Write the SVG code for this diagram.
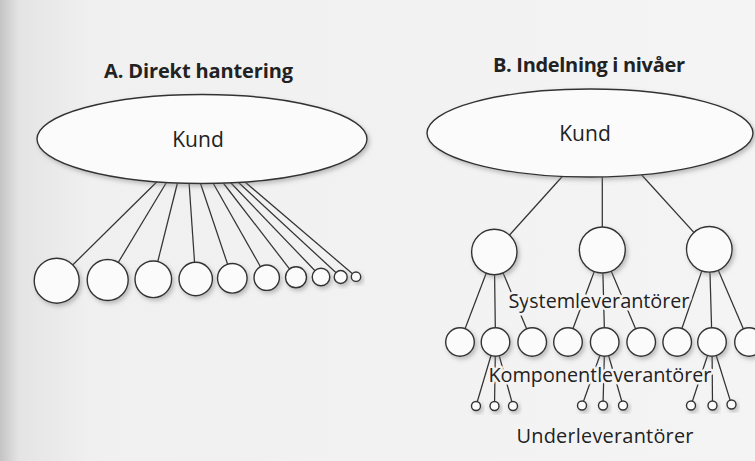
<svg xmlns="http://www.w3.org/2000/svg" width="755" height="461" viewBox="0 0 755 461">
<defs>
<linearGradient id="bg" x1="0" y1="0" x2="1" y2="0">
<stop offset="0" stop-color="#c4c4c4"/>
<stop offset="0.025" stop-color="#e4e4e4"/>
<stop offset="0.12" stop-color="#f0f0f0"/>
<stop offset="1" stop-color="#f4f4f4"/>
</linearGradient>
<filter id="sh" x="-30%" y="-30%" width="170%" height="170%">
<feDropShadow dx="2" dy="2.5" stdDeviation="2" flood-color="#777" flood-opacity="0.45"/>
</filter>
</defs>
<style>
.n{fill:#fbfbfb;stroke:#333;stroke-width:1.4;filter:url(#sh)}
.c line{stroke:#333;stroke-width:1.25}
.t{font-family:"Open Sans","Noto Sans",sans-serif;fill:#222;text-anchor:middle}
.h{font-weight:bold;font-size:20px}
.k{font-size:21px}
.l{font-size:20px;stroke:#f3f3f3;stroke-width:5;paint-order:stroke;stroke-linejoin:round}
</style>
<rect width="755" height="461" fill="url(#bg)"/>

<text class="t h" x="198.5" y="77.5" textLength="189">A. Direkt hantering</text>
<text class="t h" x="589" y="71.5" textLength="192">B. Indelning i nivåer</text>

<g id="connectors" class="c">
<!-- A -->
<line x1="156.7" y1="182" x2="56.7" y2="280.7"/>
<line x1="166.7" y1="182" x2="107.7" y2="280"/>
<line x1="177.7" y1="182" x2="153.3" y2="279.3"/>
<line x1="189" y1="182" x2="195.7" y2="279"/>
<line x1="200" y1="182" x2="232.3" y2="278.3"/>
<line x1="212.5" y1="182" x2="266.7" y2="277.7"/>
<line x1="222.5" y1="182" x2="296" y2="277.3"/>
<line x1="230" y1="182" x2="321" y2="277"/>
<line x1="238" y1="182" x2="340.7" y2="277"/>
<line x1="245" y1="182" x2="356" y2="276.7"/>
<!-- B level 0-1 -->
<line x1="562.7" y1="176" x2="494.3" y2="252"/>
<line x1="602.3" y1="176" x2="602.3" y2="250"/>
<line x1="641.7" y1="175" x2="709.3" y2="249.3"/>
<!-- level 1-2 -->
<line x1="494.3" y1="252" x2="460" y2="342"/>
<line x1="494.3" y1="252" x2="495.5" y2="342"/>
<line x1="494.3" y1="252" x2="532.2" y2="342"/>
<line x1="602.3" y1="250" x2="568" y2="342"/>
<line x1="602.3" y1="250" x2="604.7" y2="342"/>
<line x1="602.3" y1="250" x2="641.2" y2="342"/>
<line x1="709.3" y1="249.3" x2="677.2" y2="342"/>
<line x1="709.3" y1="249.3" x2="712" y2="342"/>
<line x1="709.3" y1="249.3" x2="749" y2="342"/>
<!-- level 2-3 -->
<line x1="495.5" y1="342" x2="494.5" y2="406"/>
<line x1="495.5" y1="342" x2="513" y2="406"/>
<line x1="604.7" y1="342" x2="582" y2="405.5"/>
<line x1="604.7" y1="342" x2="603" y2="405.5"/>
<line x1="604.7" y1="342" x2="623" y2="405.5"/>
<line x1="712" y1="342" x2="691" y2="405.5"/>
<line x1="712" y1="342" x2="712.5" y2="405.5"/>
<line x1="712" y1="342" x2="731.5" y2="404.5"/>
</g>

<g id="kundA"><ellipse class="n" cx="202" cy="139" rx="165" ry="44.5"/><text class="t k" x="198" y="147">Kund</text></g>
<g id="kundB"><ellipse class="n" cx="590" cy="133" rx="163" ry="44"/><text class="t k" x="585" y="140.5">Kund</text></g>

<g id="a1"><circle class="n" cx="56.7" cy="280.7" r="22.5"/></g>
<g id="a2"><circle class="n" cx="107.7" cy="280" r="20.5"/></g>
<g id="a3"><circle class="n" cx="153.3" cy="279.3" r="18.3"/></g>
<g id="a4"><circle class="n" cx="195.7" cy="279" r="16.7"/></g>
<g id="a5"><circle class="n" cx="232.3" cy="278.3" r="14.8"/></g>
<g id="a6"><circle class="n" cx="266.7" cy="277.7" r="12.7"/></g>
<g id="a7"><circle class="n" cx="296" cy="277.3" r="10.5"/></g>
<g id="a8"><circle class="n" cx="321" cy="277" r="8.8"/></g>
<g id="a9"><circle class="n" cx="340.7" cy="277" r="6.5"/></g>
<g id="a10"><circle class="n" cx="356" cy="276.7" r="4.7"/></g>

<g id="s1"><circle class="n" cx="494.3" cy="252" r="22.7"/></g>
<g id="s2"><circle class="n" cx="602.3" cy="250" r="23"/></g>
<g id="s3"><circle class="n" cx="709.3" cy="249.3" r="22.8"/></g>

<g id="k1"><circle class="n" cx="460" cy="342" r="14.3"/></g>
<g id="k2"><circle class="n" cx="495.5" cy="342" r="14.3"/></g>
<g id="k3"><circle class="n" cx="532.2" cy="342" r="14.3"/></g>
<g id="k4"><circle class="n" cx="568" cy="342" r="14.3"/></g>
<g id="k5"><circle class="n" cx="604.7" cy="342" r="14.3"/></g>
<g id="k6"><circle class="n" cx="641.2" cy="342" r="14.3"/></g>
<g id="k7"><circle class="n" cx="677.2" cy="342" r="14.3"/></g>
<g id="k8"><circle class="n" cx="712" cy="342" r="14.3"/></g>
<g id="k9"><circle class="n" cx="749" cy="342" r="14.3"/></g>

<text class="t l" x="599" y="307.5" textLength="181">Systemleverantörer</text>
<text class="t l" x="600" y="381.5" textLength="223">Komponentleverantörer</text>
<text class="t l" x="605" y="442.5" textLength="177">Underleverantörer</text>

<g id="connectors-outer" class="c">
<line x1="491" y1="355.5" x2="476" y2="406"/>
</g>

<g id="u1"><circle class="n" cx="476" cy="406" r="4.5"/></g>
<g id="u2"><circle class="n" cx="494.5" cy="406" r="4.5"/></g>
<g id="u3"><circle class="n" cx="513" cy="406" r="4.5"/></g>
<g id="u4"><circle class="n" cx="582" cy="405.5" r="4.5"/></g>
<g id="u5"><circle class="n" cx="603" cy="405.5" r="4.5"/></g>
<g id="u6"><circle class="n" cx="623" cy="405.5" r="4.5"/></g>
<g id="u7"><circle class="n" cx="691" cy="405.5" r="4.5"/></g>
<g id="u8"><circle class="n" cx="712.5" cy="405.5" r="4.5"/></g>
<g id="u9"><circle class="n" cx="731.5" cy="404.5" r="4.5"/></g>
</svg>
